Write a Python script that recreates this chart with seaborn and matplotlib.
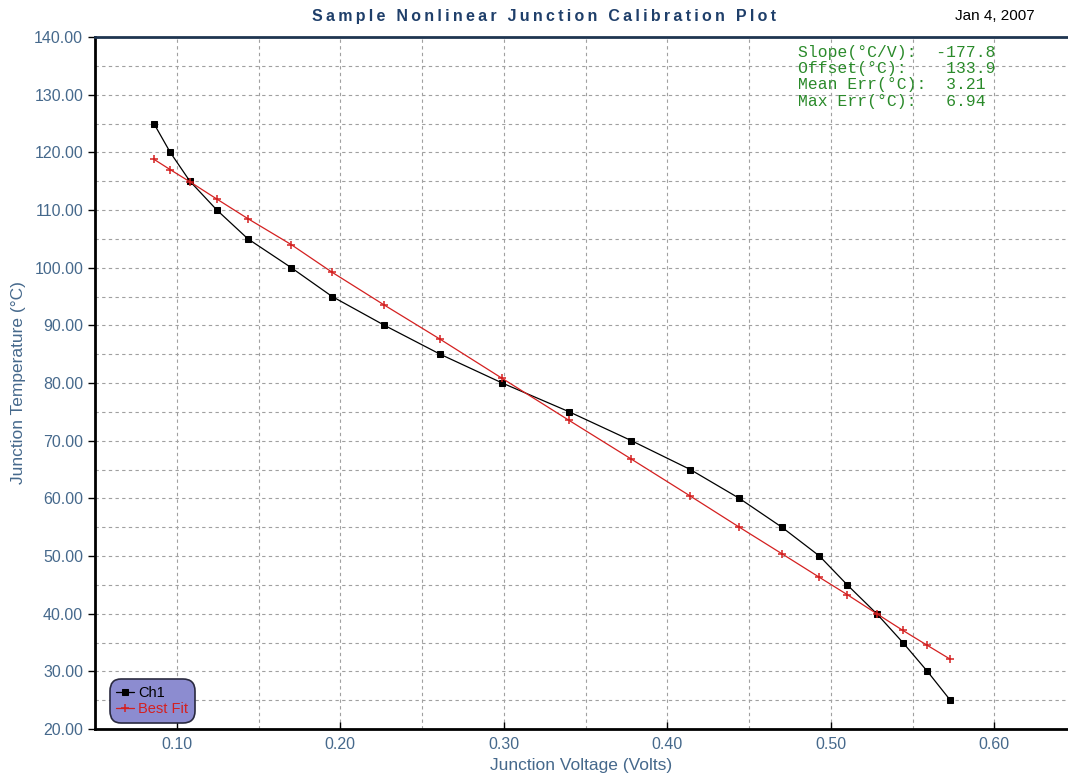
import numpy as np
import pandas as pd
import matplotlib.pyplot as plt
import seaborn as sns
from matplotlib.ticker import MultipleLocator, FormatStrFormatter

# Data
voltage = [0.086, 0.096, 0.108, 0.1245, 0.1435, 0.170, 0.195, 0.227, 0.261, 0.299,
           0.340, 0.378, 0.414, 0.444, 0.470, 0.493, 0.510, 0.528, 0.544, 0.559, 0.573]
ch1_temp = [125, 120, 115, 110, 105, 100, 95, 90, 85, 80,
            75, 70, 65, 60, 55, 50, 45, 40, 35, 30, 25]
fit_temp = [118.8, 117.0, 114.9, 111.9, 108.5, 104.0, 99.2, 93.5, 87.6, 80.8,
            73.5, 66.8, 60.4, 55.0, 50.4, 46.3, 43.3, 40.0, 37.1, 34.5, 32.1]

stats_lines = ["Slope(°C/V):  -177.8",
               "Offset(°C):    133.9",
               "Mean Err(°C):  3.21",
               "Max Err(°C):   6.94"]

title = "Sample Nonlinear Junction Calibration Plot"

df = pd.DataFrame({"Voltage": voltage, "Ch1": ch1_temp, "Best Fit": fit_temp})

sns.set_style("white")
plt.rcParams["font.family"] = ["Liberation Sans", "DejaVu Sans"]

label_col = "#46698c"
red = "#d42020"

fig = plt.figure(figsize=(10.68, 7.8), dpi=100)
ax = fig.add_axes([95 / 1068, 1 - 729 / 780, (1068 - 95) / 1068, (729 - 37) / 780])

sns.lineplot(data=df, x="Voltage", y="Ch1", sort=False, ax=ax, color="black",
             linewidth=0.9, marker="s", markersize=5, markeredgecolor="black",
             label="Ch1")
sns.lineplot(data=df, x="Voltage", y="Best Fit", sort=False, ax=ax, color=red,
             linewidth=0.9, marker="+", markersize=6, markeredgewidth=1.1,
             markeredgecolor=red, label="Best Fit")

ax.set_xlim(0.05, 0.645)
ax.set_ylim(20, 140)
ax.xaxis.set_major_locator(MultipleLocator(0.1))
ax.xaxis.set_minor_locator(MultipleLocator(0.05))
ax.yaxis.set_major_locator(MultipleLocator(10))
ax.yaxis.set_minor_locator(MultipleLocator(5))
ax.xaxis.set_major_formatter(FormatStrFormatter("%.2f"))
ax.yaxis.set_major_formatter(FormatStrFormatter("%.2f"))

ax.grid(True, which="both", color="#a0a0a0", linestyle=(0, (3, 3)), linewidth=0.8)
ax.set_axisbelow(True)

ax.tick_params(axis="y", which="major", direction="out", length=5, width=1,
               labelsize=11.5, labelcolor=label_col, color="black", left=True)
ax.tick_params(axis="x", which="major", direction="in", length=5, width=1,
               labelsize=11.5, labelcolor=label_col, color="black", bottom=True, pad=6)
ax.tick_params(which="minor", length=0)

for s in ["left", "bottom"]:
    ax.spines[s].set_color("black")
    ax.spines[s].set_linewidth(2)
ax.spines["top"].set_color("#1f3550")
ax.spines["top"].set_linewidth(2)
ax.spines["right"].set_visible(False)

ax.set_xlabel("Junction Voltage (Volts)", fontsize=12.5, color=label_col, labelpad=4)
ax.set_ylabel("Junction Temperature (°C)", fontsize=12.5, color=label_col, labelpad=6)

# letter-spaced title
spaced = "\u2009".join(title)
fig.text(544 / 1068, 1 - 16 / 780, spaced, ha="center", va="center",
         fontsize=11.5, fontweight="bold", color="#1f3f6a",
         family=["Liberation Sans", "DejaVu Sans"])
fig.text(1035 / 1068, 1 - 16 / 780, "Jan 4, 2007", ha="right", va="center",
         fontsize=11, color="black")

for i, line in enumerate(stats_lines):
    fig.text(798 / 1068, 1 - (52 + i * 16.5) / 780, line, ha="left", va="center",
             fontsize=11.8, color="#2a8a2a", family=["Liberation Mono", "DejaVu Sans Mono"])

leg = ax.legend(loc="lower left", bbox_to_anchor=(0.012, 0.005), fontsize=10.5,
                frameon=True, fancybox=True, handlelength=1.2, handletextpad=0.3,
                borderpad=0.45, labelspacing=0.15, borderaxespad=0.2)
frame = leg.get_frame()
frame.set_facecolor("#8c8cd0")
frame.set_edgecolor("#2a2a40")
frame.set_alpha(1)
frame.set_linewidth(1.2)
frame.set_boxstyle("round", pad=0, rounding_size=0.8)
for txt, c in zip(leg.get_texts(), ["black", red]):
    txt.set_color(c)

plt.savefig("out.png", dpi=100)
plt.close()
